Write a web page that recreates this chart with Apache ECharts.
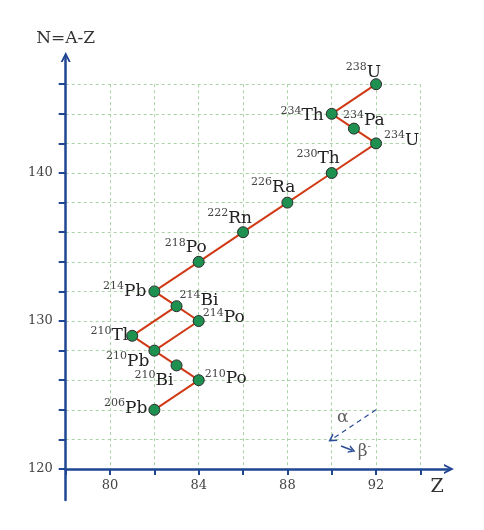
<!DOCTYPE html>
<html>
<head>
<meta charset="utf-8">
<script src="https://cdn.jsdelivr.net/npm/echarts@6/dist/echarts.min.js"></script>
<style>html,body{margin:0;padding:0;background:#fff;}#c{width:484px;height:530px;}</style>
</head>
<body>
<div id="c"></div>
<script>
// ---- data ----
const elements    = ['U','Th','Pa','U','Th','Ra','Rn','Po','Pb','Bi','Po','Tl','Pb','Bi','Po','Pb'];
const massNumbers = [238,234,234,234,230,226,222,218,214,214,214,210,210,210,210,206];
const zValues     = [92, 90, 91, 92, 90, 88, 86, 84, 82, 83, 84, 81, 82, 83, 84, 82];
const nValues     = [146,144,143,142,140,138,136,134,132,131,130,129,128,127,126,124];
// decay paths (indices into the arrays above)
const mainChain   = [0,1,2,3,4,5,6,7,8,9,10,12,13,14,15];
const branchChain = [9,11,12];
// axis tick labels
const xTickLabels = [80,84,88,92];
const yTickLabels = [120,130,140];
// legend arrows (alpha, beta-) in Z/N coordinates
const alphaArrow = [[92,124],[90,122]];
const betaArrow  = [[90.42,121.55],[90.92,121.27]];
const legendLabels = [['α',90.5,123.5],['β',91.47,121.15]];

// ---- style (label placement per nuclide: align, dx, dy) ----
const labelPlace = [
  ['right',5,-12],['right',-8,2],['left',-11,-8],['left',8,-3],['right',8,-14],
  ['right',8,-15],['right',9,-14],['right',8,-14],['right',-8,0],['left',3,-6],
  ['left',4,-3],['right',-4,0],['right',-5,11],['right',-3,15],['left',6,-1.5],['right',-7,-1.5]
];
const AX = '#1f4692';
const FONT = 'DejaVu Serif';
const CHEVRON = 'path://M0,10 L5,0 L10,10 L8,10 L5,4 L2,10 Z';

const pts = zValues.map((z,i)=>({
  value:[z,nValues[i]],
  label:{align:labelPlace[i][0], offset:[labelPlace[i][1],labelPlace[i][2]],
         formatter:'{s|'+massNumbers[i]+'}{e|'+elements[i]+'}'}
}));
const chainData = arr => arr.map(i=>[zValues[i],nValues[i]]);

const chart = echarts.init(document.getElementById('c'), null, {renderer:'canvas'});
chart.setOption({
  animation:false,
  grid:[
    {left:65.7, top:84.2, width:354.7, height:384.8},
    {left:65.7, top:57, width:383.3, height:443}
  ],
  xAxis:[
    {gridIndex:0, type:'value', min:78, max:94, interval:2,
     axisLine:{show:false},
     axisTick:{show:true, length:6, lineStyle:{color:AX, width:2}},
     axisLabel:{interval:0, margin:10, color:'#444', fontFamily:FONT, fontSize:13,
       formatter:v=>xTickLabels.includes(v)?String(v):''},
     splitLine:{show:true, lineStyle:{color:'#aad4a6', type:[3,3], width:1}}},
    {gridIndex:1, type:'value', min:78, max:95.29, offset:-31,
     axisLine:{show:true, onZero:false, symbol:['none',CHEVRON], symbolSize:[12,10],
       lineStyle:{color:AX, width:2.5}},
     axisTick:{show:false}, axisLabel:{show:false}, splitLine:{show:false},
     name:'Z', nameLocation:'end', nameGap:-12,
     nameTextStyle:{color:'#333', fontFamily:FONT, fontSize:19, align:'center', verticalAlign:'top', padding:[9,0,0,0]}}
  ],
  yAxis:[
    {gridIndex:0, type:'value', min:120, max:146, interval:2,
     axisLine:{show:false},
     axisTick:{show:true, length:7, lineStyle:{color:AX, width:2}},
     axisLabel:{interval:0, margin:13, color:'#444', fontFamily:FONT, fontSize:13,
       formatter:v=>yTickLabels.includes(v)?String(v):''},
     splitLine:{show:true, lineStyle:{color:'#aad4a6', type:[3,3], width:1}}},
    {gridIndex:1, type:'value', min:117.905, max:147.84,
     axisLine:{show:true, onZero:false, symbol:['none',CHEVRON], symbolSize:[12,10],
       lineStyle:{color:AX, width:2.5}},
     axisTick:{show:false}, axisLabel:{show:false}, splitLine:{show:false},
     name:'N=A-Z', nameLocation:'end', nameGap:10,
     nameTextStyle:{color:'#333', fontFamily:FONT, fontSize:17, align:'center', verticalAlign:'bottom'}}
  ],
  series:[
    {type:'line', xAxisIndex:0, yAxisIndex:0, data:chainData(mainChain), symbol:'none',
     lineStyle:{color:'#d03a14', width:2}, z:2, silent:true},
    {type:'line', xAxisIndex:0, yAxisIndex:0, data:chainData(branchChain), symbol:'none',
     lineStyle:{color:'#d03a14', width:2}, z:2, silent:true},
    {type:'scatter', xAxisIndex:0, yAxisIndex:0, data:pts, symbolSize:11, z:3,
     itemStyle:{color:'#1e9050', borderColor:'#2b2b2b', borderWidth:1, opacity:1},
     label:{show:true, position:'inside', verticalAlign:'middle',
       rich:{
         s:{fontFamily:FONT, fontSize:11, color:'#444', verticalAlign:'top', lineHeight:11},
         e:{fontFamily:FONT, fontSize:17, color:'#222', verticalAlign:'middle', lineHeight:21}
       }}},
    {type:'scatter', xAxisIndex:0, yAxisIndex:0, symbol:'circle', symbolSize:1, z:3, silent:true,
     itemStyle:{color:'rgba(0,0,0,0)'},
     data:legendLabels.map(l=>({value:[l[1],l[2]], label:{formatter:l[0]==='β'?'{e|β}{s|-}':'{e|α}'}})),
     label:{show:true, position:'inside',
       rich:{ e:{fontFamily:FONT, fontSize:17, color:'#333', lineHeight:21, verticalAlign:'middle'},
              s:{fontFamily:FONT, fontSize:10, color:'#333', lineHeight:11, verticalAlign:'top'} }},
     markLine:{silent:true, symbol:['none','arrow'], label:{show:false},
       data:[
         [{coord:alphaArrow[0], symbol:'none'},{coord:alphaArrow[1], symbol:CHEVRON, symbolSize:[9,8],
           lineStyle:{color:'#2b4c96', type:[5,4], width:1.2}}],
         [{coord:betaArrow[0], symbol:'none'},{coord:betaArrow[1], symbol:CHEVRON, symbolSize:[8,7],
           lineStyle:{color:'#2b4c96', type:'solid', width:1.6}}]
       ]}}
  ]
});
</script>
</body>
</html>
